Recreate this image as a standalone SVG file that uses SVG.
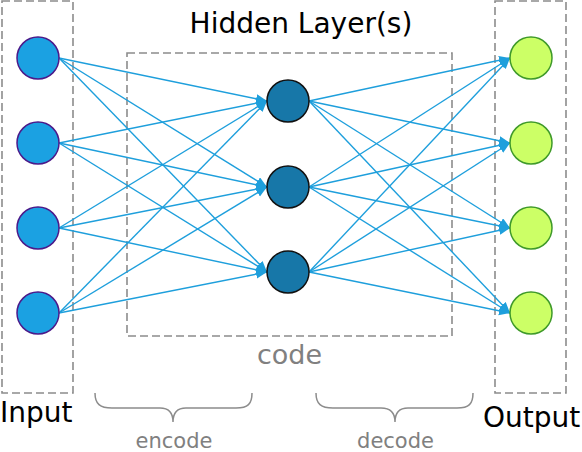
<svg xmlns="http://www.w3.org/2000/svg" width="582" height="452" viewBox="0 0 582 452">
<style>
.box{fill:none;stroke:#8c8c8c;stroke-width:1.6;stroke-dasharray:8 4}
.in{fill:#1ba1e2;stroke:#4b1a8a;stroke-width:1.5}
.hid{fill:#1777a8;stroke:#111;stroke-width:1.5}
.out{fill:#ccff66;stroke:#3f9a2a;stroke-width:1.5}
.e{stroke:#1e9fdc;stroke-width:1.4;fill:none;marker-end:url(#ah)}
.brace{fill:none;stroke:#8c8c8c;stroke-width:1.5}
.lbl{font-family:"DejaVu Sans",Verdana,sans-serif;font-size:28px;fill:#000}
.g1{font-family:"DejaVu Sans",Verdana,sans-serif;font-size:27px;fill:#808080}
.g2{font-family:"DejaVu Sans",Verdana,sans-serif;font-size:21px;fill:#808080}
</style>
<defs>
<marker id="ah" markerUnits="userSpaceOnUse" markerWidth="12" markerHeight="10" refX="11" refY="4.5" orient="auto">
<path d="M0,0 L11,4.5 L0,9 Z" fill="#1e9fdc"/>
</marker>
</defs>
<g id="groups">
<rect id="input-box" class="box" x="2" y="1" width="71" height="392"/>
<rect id="hidden-box" class="box" x="127" y="53" width="325" height="283"/>
<rect id="output-box" class="box" x="495" y="1" width="71" height="392"/>
</g>
<g id="connectors">
<path class="e" d="M59,58 L267,101"/><path class="e" d="M59,58 L267,187"/><path class="e" d="M59,58 L267,272"/>
<path class="e" d="M59,143 L267,101"/><path class="e" d="M59,143 L267,187"/><path class="e" d="M59,143 L267,272"/>
<path class="e" d="M59,228 L267,101"/><path class="e" d="M59,228 L267,187"/><path class="e" d="M59,228 L267,272"/>
<path class="e" d="M59,313 L267,101"/><path class="e" d="M59,313 L267,187"/><path class="e" d="M59,313 L267,272"/>
<path class="e" d="M309,101 L510,58"/><path class="e" d="M309,101 L510,143"/><path class="e" d="M309,101 L510,228"/><path class="e" d="M309,101 L510,313"/>
<path class="e" d="M309,187 L510,58"/><path class="e" d="M309,187 L510,143"/><path class="e" d="M309,187 L510,228"/><path class="e" d="M309,187 L510,313"/>
<path class="e" d="M309,272 L510,58"/><path class="e" d="M309,272 L510,143"/><path class="e" d="M309,272 L510,228"/><path class="e" d="M309,272 L510,313"/>
</g>
<g id="input-nodes">
<circle id="in1" class="in" cx="38" cy="58" r="21"/>
<circle id="in2" class="in" cx="38" cy="143" r="21"/>
<circle id="in3" class="in" cx="38" cy="228" r="21"/>
<circle id="in4" class="in" cx="38" cy="313" r="21"/>
</g>
<g id="hidden-nodes">
<circle id="h1" class="hid" cx="288" cy="101" r="21"/>
<circle id="h2" class="hid" cx="288" cy="187" r="21"/>
<circle id="h3" class="hid" cx="288" cy="272" r="21"/>
</g>
<g id="output-nodes">
<circle id="o1" class="out" cx="531" cy="58" r="21"/>
<circle id="o2" class="out" cx="531" cy="143" r="21"/>
<circle id="o3" class="out" cx="531" cy="228" r="21"/>
<circle id="o4" class="out" cx="531" cy="313" r="21"/>
</g>
<g id="braces">
<path class="brace" d="M95,393 C95,404 100,408 112,408 L160,408 C168,408 173,412 173,422 C173,412 178,408 186,408 L236,408 C248,408 252,404 252,393"/>
<path class="brace" d="M316,393 C316,404 321,408 333,408 L381,408 C389,408 395,412 395,422 C395,412 400,408 408,408 L457,408 C469,408 473,404 473,393"/>
</g>
<g id="labels">
<text class="lbl" x="301" y="33" text-anchor="middle">Hidden Layer(s)</text>
<text class="g1" x="289.5" y="364" text-anchor="middle">code</text>
<text class="lbl" x="0" y="422">Input</text>
<text class="lbl" x="483" y="427">Output</text>
<text class="g2" x="174" y="448" text-anchor="middle">encode</text>
<text class="g2" x="395.5" y="448" text-anchor="middle">decode</text>
</g>
</svg>
